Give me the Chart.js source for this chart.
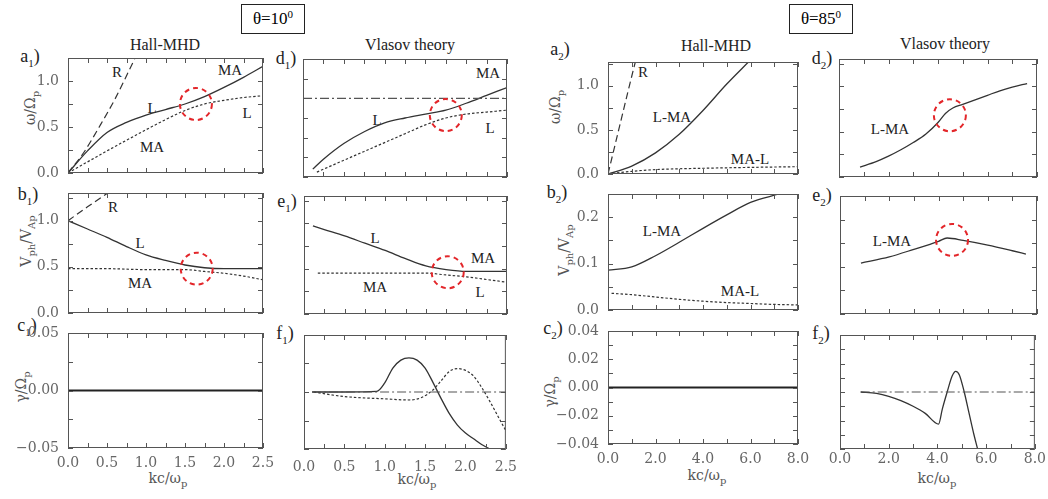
<!DOCTYPE html>
<html>
<head>
<meta charset="utf-8">
<script src="https://cdn.jsdelivr.net/npm/chart.js@4.4.1/dist/chart.umd.min.js"></script>
<style>
  body { margin: 0; background: #fff; width: 1048px; height: 499px; position: relative; overflow: hidden; font-family: "Liberation Serif", serif; }
  canvas { position: absolute; z-index: 2; }
  .t { position: absolute; white-space: nowrap; transform: translate(-50%, -50%); color: #222; line-height: 1; z-index: 1; }
  .box { position: absolute; border: 1px solid #222; width: 62px; height: 28px; line-height: 28px; text-align: center; font-size: 17px; }
  .box sup { font-size: 11px; vertical-align: 6px; line-height: 0; }
  .ttl { font-size: 16px; }
  .pl { font-size: 18px; }
  .pl sub { font-size: 11px; }
  .cl { font-size: 15px; }
  .ax { font-family: "DejaVu Serif", serif; font-size: 14px; color: #555; }
  .ax sub { font-size: 10px; }
  .rot { transform: translate(-50%, -50%) rotate(-90deg); }
</style>
</head>
<body>
<script>
// ---- theta = 10 deg, Hall-MHD ----
const a1RK = [0, 0.2, 0.4, 0.6, 0.86];
const a1RW = [0, 0.22, 0.5, 0.8, 1.25];
const a1SolidK = [0, 0.25, 0.5, 0.75, 1.0, 1.25, 1.5, 1.75, 2.0, 2.25, 2.5];
const a1SolidW = [0, 0.24, 0.44, 0.55, 0.63, 0.69, 0.75, 0.83, 0.93, 1.04, 1.16];
const a1DotK = [0, 0.5, 1.0, 1.25, 1.5, 1.75, 2.0, 2.25, 2.5];
const a1DotW = [0, 0.24, 0.47, 0.58, 0.68, 0.75, 0.79, 0.82, 0.84];

const b1RK = [0, 0.25, 0.51];
const b1RV = [1.0, 1.15, 1.3];
const b1SolidK = [0, 0.25, 0.5, 0.75, 1.0, 1.25, 1.5, 1.75, 2.0, 2.25, 2.5];
const b1SolidV = [1.0, 0.91, 0.82, 0.72, 0.63, 0.57, 0.52, 0.49, 0.48, 0.48, 0.48];
const b1DotK = [0, 0.5, 1.0, 1.5, 1.75, 2.0, 2.25, 2.5];
const b1DotV = [0.48, 0.48, 0.47, 0.47, 0.45, 0.43, 0.40, 0.36];

const c1K = [0, 2.5];
const c1G = [0, 0];

// ---- theta = 10 deg, Vlasov ----
const d1NuK = [0, 2.5];
const d1NuW = [0.8, 0.8];
const d1SolidK = [0.12, 0.25, 0.5, 0.75, 1.0, 1.25, 1.5, 1.75, 2.0, 2.25, 2.5];
const d1SolidW = [0.08, 0.18, 0.34, 0.46, 0.55, 0.60, 0.64, 0.68, 0.75, 0.83, 0.91];
const d1DotK = [0.17, 0.5, 0.75, 1.0, 1.25, 1.5, 1.75, 2.0, 2.25, 2.5];
const d1DotW = [0.05, 0.17, 0.26, 0.35, 0.44, 0.53, 0.60, 0.64, 0.66, 0.68];

const e1SolidK = [0.11, 0.25, 0.5, 0.75, 1.0, 1.25, 1.5, 1.75, 2.0, 2.25, 2.5];
const e1SolidV = [0.97, 0.93, 0.86, 0.78, 0.70, 0.61, 0.53, 0.49, 0.47, 0.47, 0.47];
const e1DotK = [0.17, 0.5, 1.0, 1.5, 1.75, 2.0, 2.25, 2.5];
const e1DotV = [0.45, 0.45, 0.45, 0.45, 0.43, 0.41, 0.38, 0.35];

const f1ZeroK = [0.1, 2.5];
const f1ZeroG = [0, 0];
const f1SolidK = [0.1, 0.5, 0.9, 1.0, 1.1, 1.2, 1.3, 1.4, 1.5, 1.6, 1.7, 1.8, 1.9, 2.0, 2.1, 2.2, 2.3];
const f1SolidG = [0, 0, 0.0005, 0.008, 0.021, 0.028, 0.030, 0.028, 0.021, 0.008, -0.006, -0.019, -0.029, -0.036, -0.041, -0.046, -0.050];
const f1DotK = [0.12, 0.5, 1.0, 1.3, 1.45, 1.6, 1.7, 1.8, 1.9, 2.0, 2.1, 2.2, 2.3, 2.4, 2.5];
const f1DotG = [0, -0.004, -0.006, -0.007, -0.005, 0.002, 0.010, 0.018, 0.0205, 0.019, 0.014, 0.004, -0.008, -0.021, -0.034];

// ---- theta = 85 deg, Hall-MHD ----
const a2RK = [0, 0.45, 0.9, 1.15];
const a2RW = [0, 0.5, 1.0, 1.27];
const a2SolidK = [0, 1, 2, 3, 4, 5, 5.95];
const a2SolidW = [0, 0.09, 0.24, 0.45, 0.72, 1.02, 1.28];
const a2DotK = [0, 1, 2, 4, 6, 8];
const a2DotW = [0, 0.03, 0.05, 0.065, 0.075, 0.083];

const b2SolidK = [0, 1, 2, 3, 4, 5, 6, 7.2];
const b2SolidV = [0.086, 0.093, 0.117, 0.146, 0.176, 0.205, 0.232, 0.25];
const b2DotK = [0.15, 1, 2, 3, 4, 5, 6, 7, 8];
const b2DotV = [0.036, 0.033, 0.028, 0.023, 0.019, 0.016, 0.014, 0.012, 0.011];

const c2K = [0, 8];
const c2G = [0, 0];

// ---- theta = 85 deg, Vlasov ----
const d2SolidK = [0.85, 1.5, 2.0, 2.5, 3.0, 3.5, 4.0, 4.3, 4.6, 5.0, 5.5, 6.0, 6.5, 7.0, 7.6];
const d2SolidW = [0.11, 0.17, 0.23, 0.30, 0.38, 0.47, 0.60, 0.70, 0.76, 0.80, 0.85, 0.90, 0.95, 0.99, 1.03];

const e2SolidK = [0.85, 2.0, 3.0, 4.0, 4.35, 5.0, 6.0, 7.0, 7.55];
const e2SolidV = [0.108, 0.121, 0.137, 0.154, 0.161, 0.156, 0.146, 0.134, 0.127];

const f2ZeroK = [0.85, 8];
const f2ZeroG = [0, 0];
const f2SolidK = [0.85, 1.5, 2.0, 2.5, 3.0, 3.5, 4.05, 4.2, 4.4, 4.6, 4.75, 4.9, 5.1, 5.3, 5.5, 5.65];
const f2SolidG = [0, -0.001, -0.003, -0.006, -0.010, -0.015, -0.0225, -0.012, 0.000, 0.011, 0.0145, 0.012, 0.000, -0.015, -0.030, -0.040];

// red dashed rings (k, value)
const ringA1 = [1.64, 0.75];
const ringB1 = [1.65, 0.48];
const ringD1 = [1.75, 0.63];
const ringE1 = [1.77, 0.46];
const ringD2 = [4.48, 0.68];
const ringE2 = [4.55, 0.157];

// ---- text (placed first, charts are stacked above it) ----
function put(html, x, y, cls) {
    const d = document.createElement('div');
    d.className = 't ' + cls;
    d.style.left = x + 'px';
    d.style.top = y + 'px';
    d.innerHTML = html;
    document.body.appendChild(d);
}

[['\u03b8=10<sup>0</sup>', 241, 4], ['\u03b8=85<sup>0</sup>', 789, 4]].forEach(b => {
    const d = document.createElement('div');
    d.className = 'box';
    d.style.left = b[1] + 'px';
    d.style.top = b[2] + 'px';
    d.innerHTML = b[0];
    document.body.appendChild(d);
});

put('Hall-MHD', 165, 45, 'ttl');
put('Vlasov theory', 410, 45, 'ttl');
put('Hall-MHD', 716, 46, 'ttl');
put('Vlasov theory', 945, 44, 'ttl');

[['a', 1, 30, 58], ['b', 1, 28, 196], ['c', 1, 27, 327], ['d', 1, 286, 60], ['e', 1, 287, 203], ['f', 1, 285, 335],
 ['a', 2, 560, 51], ['b', 2, 557, 194], ['c', 2, 553, 330], ['d', 2, 822, 60], ['e', 2, 822, 197], ['f', 2, 821, 335]]
    .forEach(p => put(p[0] + '<sub>' + p[1] + '</sub>)', p[2], p[3], 'pl'));

[['R', 117, 72], ['MA', 230, 70], ['L', 152, 108], ['L', 247, 113], ['MA', 152, 147],
 ['R', 113, 207], ['L', 140, 243], ['MA', 140, 283],
 ['MA', 488, 73], ['L', 377, 120], ['L', 490, 128],
 ['L', 375, 238], ['MA', 483, 258], ['MA', 375, 287], ['L', 480, 292],
 ['R', 643, 72], ['L-MA', 672, 117], ['MA-L', 750, 159],
 ['L-MA', 662, 231], ['MA-L', 740, 291],
 ['L-MA', 890, 129], ['L-MA', 892, 241]]
    .forEach(l => put(l[0], l[1], l[2], 'cl'));

put('\u03c9/\u03a9<sub>p</sub>', 32, 108, 'ax rot');
put('V<sub>ph</sub>/V<sub>Ap</sub>', 28, 241, 'ax rot');
put('\u03b3/\u03a9<sub>p</sub>', 23, 387, 'ax rot');
put('\u03c9/\u03a9<sub>p</sub>', 557, 107, 'ax rot');
put('V<sub>ph</sub>/V<sub>Ap</sub>', 566, 250, 'ax rot');
put('\u03b3/\u03a9<sub>p</sub>', 552, 392, 'ax rot');

put('kc/\u03c9<sub>p</sub>', 168, 480, 'ax');
put('kc/\u03c9<sub>p</sub>', 417, 481, 'ax');
put('kc/\u03c9<sub>p</sub>', 707, 477, 'ax');
put('kc/\u03c9<sub>p</sub>', 937, 480, 'ax');

// ---------------------------------------------------------------
// room round each plot area: top must fit half a tick label
const PAD_L = 60, PAD_T = 20, PAD_B = 34;

const STYLES = {
    solid:   { borderColor: '#333', borderWidth: 1.3 },
    dot:     { borderColor: '#333', borderWidth: 1.2, borderDash: [2.5, 2] },
    dash:    { borderColor: '#333', borderWidth: 1.2, borderDash: [7, 4] },
    dashdot: { borderColor: '#555', borderWidth: 1.1, borderDash: [9, 3, 2, 3] },
    thick:   { borderColor: '#222', borderWidth: 2.2 }
};

function fmt(v, step, dec) {
    const r = v / step;
    if (Math.abs(r - Math.round(r)) > 1e-6) return '';
    const s = Math.abs(v).toFixed(dec);
    return v < -1e-9 ? '\u2212' + s : s;
}

// box, inward ticks on all four sides, red dashed rings
const framePlugin = {
    id: 'frame',
    afterDraw(chart) {
        const { ctx, chartArea: a, scales: { x, y } } = chart;
        ctx.save();
        ctx.strokeStyle = '#555';
        ctx.lineWidth = 1;
        ctx.setLineDash([]);
        ctx.strokeRect(a.left + 0.5, a.top + 0.5, a.right - a.left - 1, a.bottom - a.top - 1);
        ctx.beginPath();
        x.ticks.forEach(t => {
            const px = Math.round(x.getPixelForValue(t.value)) + 0.5;
            ctx.moveTo(px, a.bottom); ctx.lineTo(px, a.bottom - 5);
            ctx.moveTo(px, a.top); ctx.lineTo(px, a.top + 5);
        });
        y.ticks.forEach(t => {
            const py = Math.round(y.getPixelForValue(t.value)) + 0.5;
            ctx.moveTo(a.left, py); ctx.lineTo(a.left + 5, py);
            ctx.moveTo(a.right, py); ctx.lineTo(a.right - 5, py);
        });
        ctx.stroke();
        const rings = chart.options.plugins.frame.rings || [];
        ctx.strokeStyle = '#e3262a';
        ctx.lineWidth = 2;
        ctx.setLineDash([5, 4]);
        rings.forEach(r => {
            ctx.beginPath();
            ctx.arc(x.getPixelForValue(r[0]), y.getPixelForValue(r[1]), 16, 0, Math.PI * 2);
            ctx.stroke();
        });
        ctx.restore();
    }
};

function makePanel(rect, cfg) {
    const [L, T, R, B] = rect;
    const padR = cfg.padR ?? 20;
    const cv = document.createElement('canvas');
    const w = R - L + PAD_L + padR, h = B - T + PAD_T + PAD_B;
    cv.width = w; cv.height = h;
    cv.style.left = (L - PAD_L) + 'px';
    cv.style.top = (T - PAD_T) + 'px';
    cv.style.width = w + 'px';
    cv.style.height = h + 'px';
    document.body.appendChild(cv);

    const tickFont = { family: 'DejaVu Serif', size: 14 };
    new Chart(cv, {
        type: 'scatter',
        data: {
            datasets: cfg.series.map(s => Object.assign({
                data: s.k.map((k, i) => ({ x: k, y: s.v[i] })),
                showLine: true,
                pointRadius: 0,
                cubicInterpolationMode: 'monotone'
            }, STYLES[s.style]))
        },
        options: {
            responsive: false,
            animation: false,
            devicePixelRatio: 1,
            layout: { padding: { left: 0, top: PAD_T, right: padR, bottom: 0 } },
            plugins: { legend: { display: false }, tooltip: { enabled: false }, frame: { rings: cfg.rings || [] } },
            scales: {
                x: {
                    type: 'linear', min: cfg.x[0], max: cfg.x[1],
                    afterFit: s => { s.height = PAD_B; },
                    grid: { display: false, drawTicks: false }, border: { display: false },
                    ticks: {
                        display: !!cfg.xLabels, stepSize: cfg.x[2], autoSkip: false, includeBounds: false,
                        maxRotation: 0, padding: cfg.xPad ?? 7, color: '#666', font: tickFont,
                        callback: v => fmt(v, cfg.x[3], 1)
                    }
                },
                y: {
                    type: 'linear', min: cfg.y[0], max: cfg.y[1],
                    afterFit: s => { s.width = PAD_L; },
                    grid: { display: false, drawTicks: false }, border: { display: false },
                    ticks: {
                        display: !!cfg.yLabels, stepSize: cfg.y[2], autoSkip: false, includeBounds: false,
                        padding: 9, color: '#666', font: tickFont,
                        callback: v => fmt(v, cfg.y[3], cfg.y[4])
                    }
                }
            }
        },
        plugins: [framePlugin]
    });
}

const X1 = [0, 2.5, 0.25, 0.5];
const X2 = [0, 8, 1, 2];

makePanel([68, 58, 263, 173], { x: X1, y: [0, 1.25, 0.25, 0.5, 1], yLabels: true, rings: [ringA1], series: [
    { k: a1RK, v: a1RW, style: 'dash' }, { k: a1SolidK, v: a1SolidW, style: 'solid' }, { k: a1DotK, v: a1DotW, style: 'dot' }] });
makePanel([68, 193, 263, 313], { x: X1, y: [0, 1.3, 0.25, 0.5, 1], yLabels: true, rings: [ringB1], series: [
    { k: b1RK, v: b1RV, style: 'dash' }, { k: b1SolidK, v: b1SolidV, style: 'solid' }, { k: b1DotK, v: b1DotV, style: 'dot' }] });
makePanel([68, 333, 263, 448], { x: X1, xLabels: true, y: [-0.05, 0.05, 0.025, 0.05, 2], yLabels: true, series: [
    { k: c1K, v: c1G, style: 'thick' }] });

makePanel([303, 59, 507, 177], { x: X1, y: [0, 1.2, 0.2, 10, 1], rings: [ringD1], series: [
    { k: d1NuK, v: d1NuW, style: 'dashdot' }, { k: d1SolidK, v: d1SolidW, style: 'solid' }, { k: d1DotK, v: d1DotW, style: 'dot' }] });
makePanel([304, 196, 507, 314], { x: X1, y: [0, 1.3, 0.25, 10, 1], rings: [ringE1], series: [
    { k: e1SolidK, v: e1SolidV, style: 'solid' }, { k: e1DotK, v: e1DotV, style: 'dot' }] });
makePanel([304, 335, 507, 449], { x: X1, xLabels: true, xPad: 10, y: [-0.05, 0.05, 0.025, 10, 2], series: [
    { k: f1ZeroK, v: f1ZeroG, style: 'dashdot' }, { k: f1SolidK, v: f1SolidG, style: 'solid' }, { k: f1DotK, v: f1DotG, style: 'dot' }] });

makePanel([608, 62, 798, 174], { x: X2, y: [0, 1.27, 0.25, 0.5, 1], yLabels: true, series: [
    { k: a2RK, v: a2RW, style: 'dash' }, { k: a2SolidK, v: a2SolidW, style: 'solid' }, { k: a2DotK, v: a2DotW, style: 'dot' }] });
makePanel([608, 194, 798, 310], { x: X2, y: [0, 0.25, 0.05, 0.1, 1], yLabels: true, series: [
    { k: b2SolidK, v: b2SolidV, style: 'solid' }, { k: b2DotK, v: b2DotV, style: 'dot' }] });
makePanel([608, 331, 798, 444], { x: X2, xLabels: true, y: [-0.04, 0.04, 0.01, 0.02, 2], yLabels: true, series: [
    { k: c2K, v: c2G, style: 'thick' }] });

makePanel([839, 59, 1037, 177], { x: X2, padR: 11, y: [0, 1.3, 0.25, 10, 1], rings: [ringD2], series: [
    { k: d2SolidK, v: d2SolidW, style: 'solid' }] });
makePanel([840, 196, 1037, 314], { x: X2, padR: 11, y: [0, 0.25, 0.05, 10, 1], rings: [ringE2], series: [
    { k: e2SolidK, v: e2SolidV, style: 'solid' }] });
makePanel([840, 335, 1037, 449], { x: X2, padR: 11, xLabels: true, xPad: 2, y: [-0.04, 0.04, 0.01, 10, 2], series: [
    { k: f2ZeroK, v: f2ZeroG, style: 'dashdot' }, { k: f2SolidK, v: f2SolidG, style: 'solid' }] });
</script>
</body>
</html>
